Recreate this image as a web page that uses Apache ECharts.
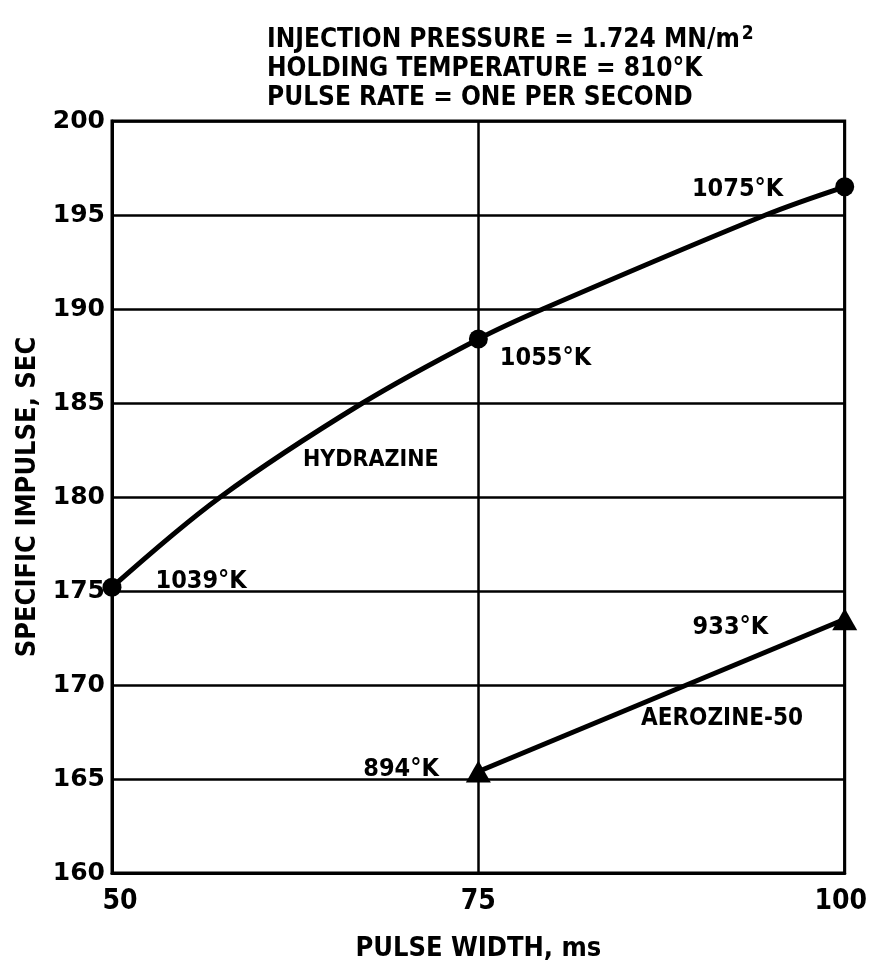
<!DOCTYPE html>
<html>
<head>
<meta charset="utf-8">
<script src="https://cdn.jsdelivr.net/npm/echarts@6/dist/echarts.min.js"></script>
<style>
html,body{margin:0;padding:0;background:#fff;}
#c{width:870px;height:974px;}
</style>
</head>
<body>
<div id="c"></div>
<script>
// ---- data ----
const xTicks = [50, 75, 100];
const yMin = 160, yMax = 200, yStep = 5;
const hydCurveX = [50, 57.4, 67.1, 75, 79.4, 94.6, 100];
const hydCurveY = [175.2, 180, 185, 188.4, 190, 195, 196.5];
const hydPointX = [50, 75, 100];
const hydPointY = [175.2, 188.4, 196.5];
const hydTemps = ['1039°K', '1055°K', '1075°K'];
const aeroX = [75, 100];
const aeroY = [165.4, 173.5];
const aeroTemps = ['894°K', '933°K'];
const titleLines = ['INJECTION PRESSURE = 1.724 MN/m', 'HOLDING TEMPERATURE = 810°K', 'PULSE RATE = ONE PER SECOND'];
const titleSup = '2';

const FONT = '"DejaVu Sans Condensed", "DejaVu Sans", sans-serif';
const chart = echarts.init(document.getElementById('c'));

const hydLabelCfg = [
  {position: 'right', offset: [29, -6]},
  {position: 'right', offset: [7, 19]},
  {position: 'left', offset: [-47, 3]}
];
const aeroLabelCfg = [
  {position: 'left', offset: [-22, -2]},
  {position: 'left', offset: [-59, 8]}
];
const lblFont = {fontFamily: FONT, fontWeight: 'bold', fontSize: 25, color: '#000'};
const titleStyle = {fontFamily: FONT, fontWeight: 'bold', fontSize: 26, color: '#000'};

chart.setOption({
  animation: false,
  backgroundColor: '#fff',
  title: [
    {
      left: 262, top: 20,
      text: '{m|' + titleLines[0] + '}{s|' + titleSup + '}',
      textStyle: {rich: {
        m: Object.assign({lineHeight: 28, verticalAlign: 'bottom'}, titleStyle),
        s: {fontFamily: FONT, fontWeight: 'bold', fontSize: 19, color: '#000', lineHeight: 20, verticalAlign: 'top', padding: [0, 0, 20, 2]}
      }}
    },
    {left: 262, top: 51, text: titleLines[1], textStyle: titleStyle},
    {left: 262, top: 80, text: titleLines[2], textStyle: titleStyle}
  ],
  grid: {left: 112, right: 22, top: 121, bottom: 101, show: true, borderColor: '#000', borderWidth: 3, backgroundColor: 'transparent'},
  xAxis: {
    type: 'value', min: xTicks[0], max: xTicks[xTicks.length-1], interval: 25,
    name: 'PULSE WIDTH, ms', nameLocation: 'middle', nameGap: 62,
    nameTextStyle: {fontFamily: FONT, fontWeight: 'bold', fontSize: 27, color: '#000'},
    axisLine: {lineStyle: {color: '#000', width: 3}},
    axisTick: {show: false},
    splitLine: {lineStyle: {color: '#000', width: 2.5}},
    axisLabel: {
      margin: 15, color: '#000', fontFamily: FONT, fontWeight: 'bold', fontSize: 28,
      formatter: function (v) {
        if (v === xTicks[0]) return '{a|' + v + '}';
        if (v === xTicks[xTicks.length-1]) return '{b|' + v + '}';
        return String(v);
      },
      rich: {
        a: {fontFamily: FONT, fontWeight: 'bold', fontSize: 28, color: '#000', padding: [0,0,0,16]},
        b: {fontFamily: FONT, fontWeight: 'bold', fontSize: 28, color: '#000', padding: [0,8,0,0]}
      }
    }
  },
  yAxis: {
    type: 'value', min: yMin, max: yMax, interval: yStep,
    name: 'SPECIFIC IMPULSE, SEC', nameLocation: 'middle', nameGap: 66, nameRotate: 90,
    nameTextStyle: {fontFamily: FONT, fontWeight: 'bold', fontSize: 27, color: '#000'},
    axisLine: {show: true, lineStyle: {color: '#000', width: 3}},
    axisTick: {show: false},
    splitLine: {lineStyle: {color: '#000', width: 2.5}},
    axisLabel: {margin: 7, color: '#000', fontFamily: '"DejaVu Sans", sans-serif', fontWeight: 'bold', fontSize: 25}
  },
  graphic: [
    {type: 'text', left: 303, top: 449, style: {text: 'HYDRAZINE', font: 'bold 23px ' + FONT, fill: '#000'}},
    {type: 'text', left: 641, top: 707, style: {text: 'AEROZINE-50', font: 'bold 24px ' + FONT, fill: '#000'}}
  ],
  series: [
    {
      type: 'line', smooth: 0.35, showSymbol: false, symbol: 'none',
      lineStyle: {color: '#000', width: 5},
      data: hydCurveX.map((x, i) => [x, hydCurveY[i]]), z: 3
    },
    {
      type: 'line', showSymbol: false, symbol: 'none',
      lineStyle: {color: '#000', width: 5},
      data: aeroX.map((x, i) => [x, aeroY[i]]), z: 3
    },
    {
      type: 'scatter', symbol: 'circle', symbolSize: 19,
      itemStyle: {color: '#000', opacity: 1},
      data: hydPointX.map((x, i) => ({value: [x, hydPointY[i]],
        label: Object.assign({show: true, formatter: hydTemps[i]}, lblFont, hydLabelCfg[i])})),
      z: 4
    },
    {
      type: 'scatter', symbol: 'triangle', symbolSize: [25, 22],
      itemStyle: {color: '#000', opacity: 1},
      data: aeroX.map((x, i) => ({value: [x, aeroY[i]],
        label: Object.assign({show: true, formatter: aeroTemps[i]}, lblFont, aeroLabelCfg[i])})),
      z: 4
    }
  ]
});
</script>
</body>
</html>
